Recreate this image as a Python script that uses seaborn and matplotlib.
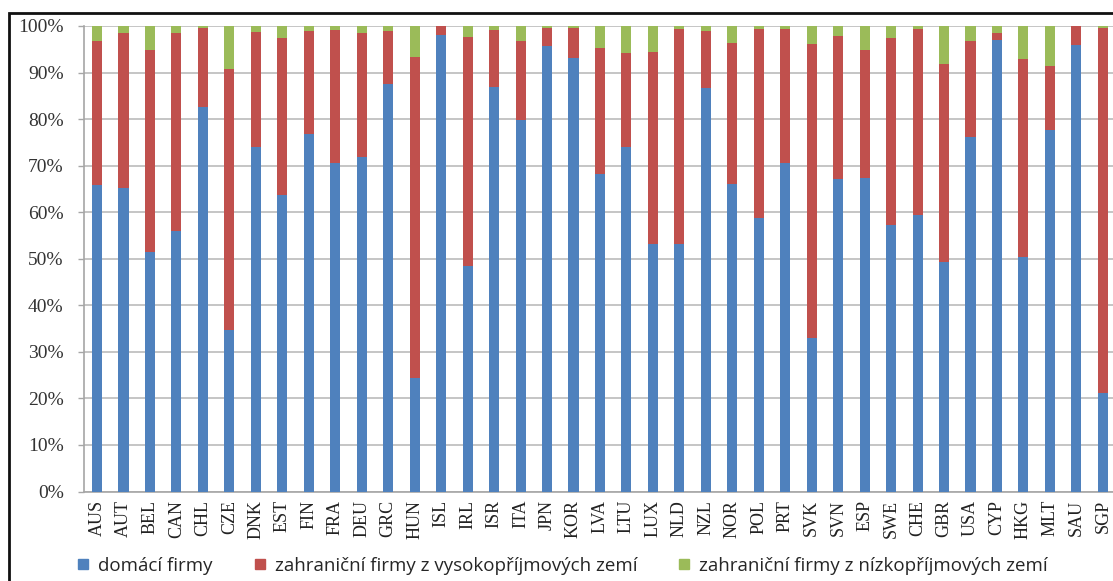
import matplotlib
matplotlib.use("Agg")
import matplotlib.pyplot as plt
import seaborn as sns
import numpy as np
import pandas as pd
from matplotlib.patches import Rectangle
from matplotlib.lines import Line2D

countries = ["AUS", "AUT", "BEL", "CAN", "CHL", "CZE", "DNK", "EST", "FIN", "FRA",
             "DEU", "GRC", "HUN", "ISL", "IRL", "ISR", "ITA", "JPN", "KOR", "LVA",
             "LTU", "LUX", "NLD", "NZL", "NOR", "POL", "PRT", "SVK", "SVN", "ESP",
             "SWE", "CHE", "GBR", "USA", "CYP", "HKG", "MLT", "SAU", "SGP"]

domestic = [65.8, 65.3, 51.4, 56.0, 82.7, 34.7, 73.9, 63.7, 76.9, 70.5,
            71.9, 87.5, 24.4, 98.1, 48.5, 86.8, 79.8, 95.6, 93.2, 68.2,
            73.9, 53.2, 53.2, 86.6, 66.1, 58.7, 70.5, 32.9, 67.1, 67.3,
            57.3, 59.3, 49.4, 76.1, 97.0, 50.4, 77.7, 95.9, 21.1]

foreign_high = [31.0, 33.3, 43.4, 42.6, 16.8, 56.0, 24.8, 33.8, 22.0, 28.6,
                26.7, 11.5, 68.9, 1.8, 49.2, 12.3, 17.0, 3.9, 6.4, 27.1,
                20.2, 41.3, 46.1, 12.3, 30.3, 40.7, 28.8, 63.2, 30.8, 27.5,
                40.1, 40.1, 42.4, 20.7, 1.4, 42.5, 13.6, 4.0, 78.4]

foreign_low = [3.2, 1.4, 5.2, 1.4, 0.5, 9.3, 1.3, 2.5, 1.1, 0.9,
               1.4, 1.0, 6.7, 0.1, 2.3, 0.9, 3.2, 0.5, 0.4, 4.7,
               5.9, 5.5, 0.7, 1.1, 3.6, 0.6, 0.7, 3.9, 2.1, 5.2,
               2.6, 0.6, 8.2, 3.2, 1.6, 7.1, 8.7, 0.1, 0.5]

series_names = ["domácí firmy",
                "zahraniční firmy z vysokopříjmových zemí",
                "zahraniční firmy z nízkopříjmových zemí"]
colors = ["#4f81bd", "#c0504d", "#9bbb59"]

df = pd.DataFrame({"country": countries,
                   "s1": domestic, "s2": foreign_high, "s3": foreign_low})
df["c1"] = df["s1"]
df["c2"] = df["s1"] + df["s2"]
df["c3"] = df["s1"] + df["s2"] + df["s3"]

sns.set_theme(style="white")
plt.rcParams["font.family"] = ["DejaVu Sans"]

fig = plt.figure(figsize=(11.13, 5.81), dpi=100)
ax = fig.add_axes([83.8 / 1113, 1 - 491.5 / 581, 1032.3 / 1113, (491.5 - 26) / 581])

bw = 0.38
for col, c in [("c3", colors[2]), ("c2", colors[1]), ("c1", colors[0])]:
    sns.barplot(data=df, x="country", y=col, color=c, saturation=1,
                width=bw, ax=ax, zorder=3, linewidth=0)

ax.set_xlim(-0.5, len(countries) - 0.5)
ax.set_ylim(0, 100)
ax.set_yticks(np.arange(0, 101, 10))
ax.set_yticklabels([f"{v}%" for v in range(0, 101, 10)],
                   fontfamily="Liberation Serif", fontsize=14, color="#333333")
ax.set_xticks(range(len(countries)))
ax.set_xticklabels(countries, rotation=90, fontfamily="Liberation Serif",
                   fontsize=13, color="#222222")
ax.set_xticks(np.arange(-0.5, len(countries), 1), minor=True)
ax.tick_params(axis="x", which="major", length=0, pad=6)
ax.tick_params(axis="x", which="minor", length=4.5, width=1, color="#a6a6a6", direction="out")
ax.tick_params(axis="y", which="major", length=4.5, width=1, color="#a6a6a6",
               direction="out", pad=10, left=True)
ax.set_xlabel("")
ax.set_ylabel("")

ax.yaxis.grid(True, color="#c0c0c0", linewidth=1.3, zorder=0)
ax.xaxis.grid(False)
ax.set_axisbelow(True)
for s in ["top", "right"]:
    ax.spines[s].set_visible(False)
for s in ["left", "bottom"]:
    ax.spines[s].set_color("#a6a6a6")
    ax.spines[s].set_linewidth(1.2)

handles = [Line2D([0], [0], marker="s", linestyle="none", markersize=7,
                  markerfacecolor=c, markeredgecolor=c) for c in colors]
leg = fig.legend(handles, series_names, loc="center left", ncol=3,
                 bbox_to_anchor=(74 / 1113, 1 - 566 / 581), frameon=False,
                 prop={"family": "Open Sans", "size": 13.5},
                 handletextpad=0.3, columnspacing=2.0, handlelength=1.0,
                 borderpad=0, borderaxespad=0)
for t in leg.get_texts():
    t.set_color("#262626")

frame = Rectangle((9 / 1113, -0.05), 1.2, 1 - 13 / 581 + 0.05,
                  transform=fig.transFigure, fill=False, edgecolor="#111111",
                  linewidth=2, zorder=10)
fig.patches.append(frame)

fig.savefig("out.png", dpi=100)
